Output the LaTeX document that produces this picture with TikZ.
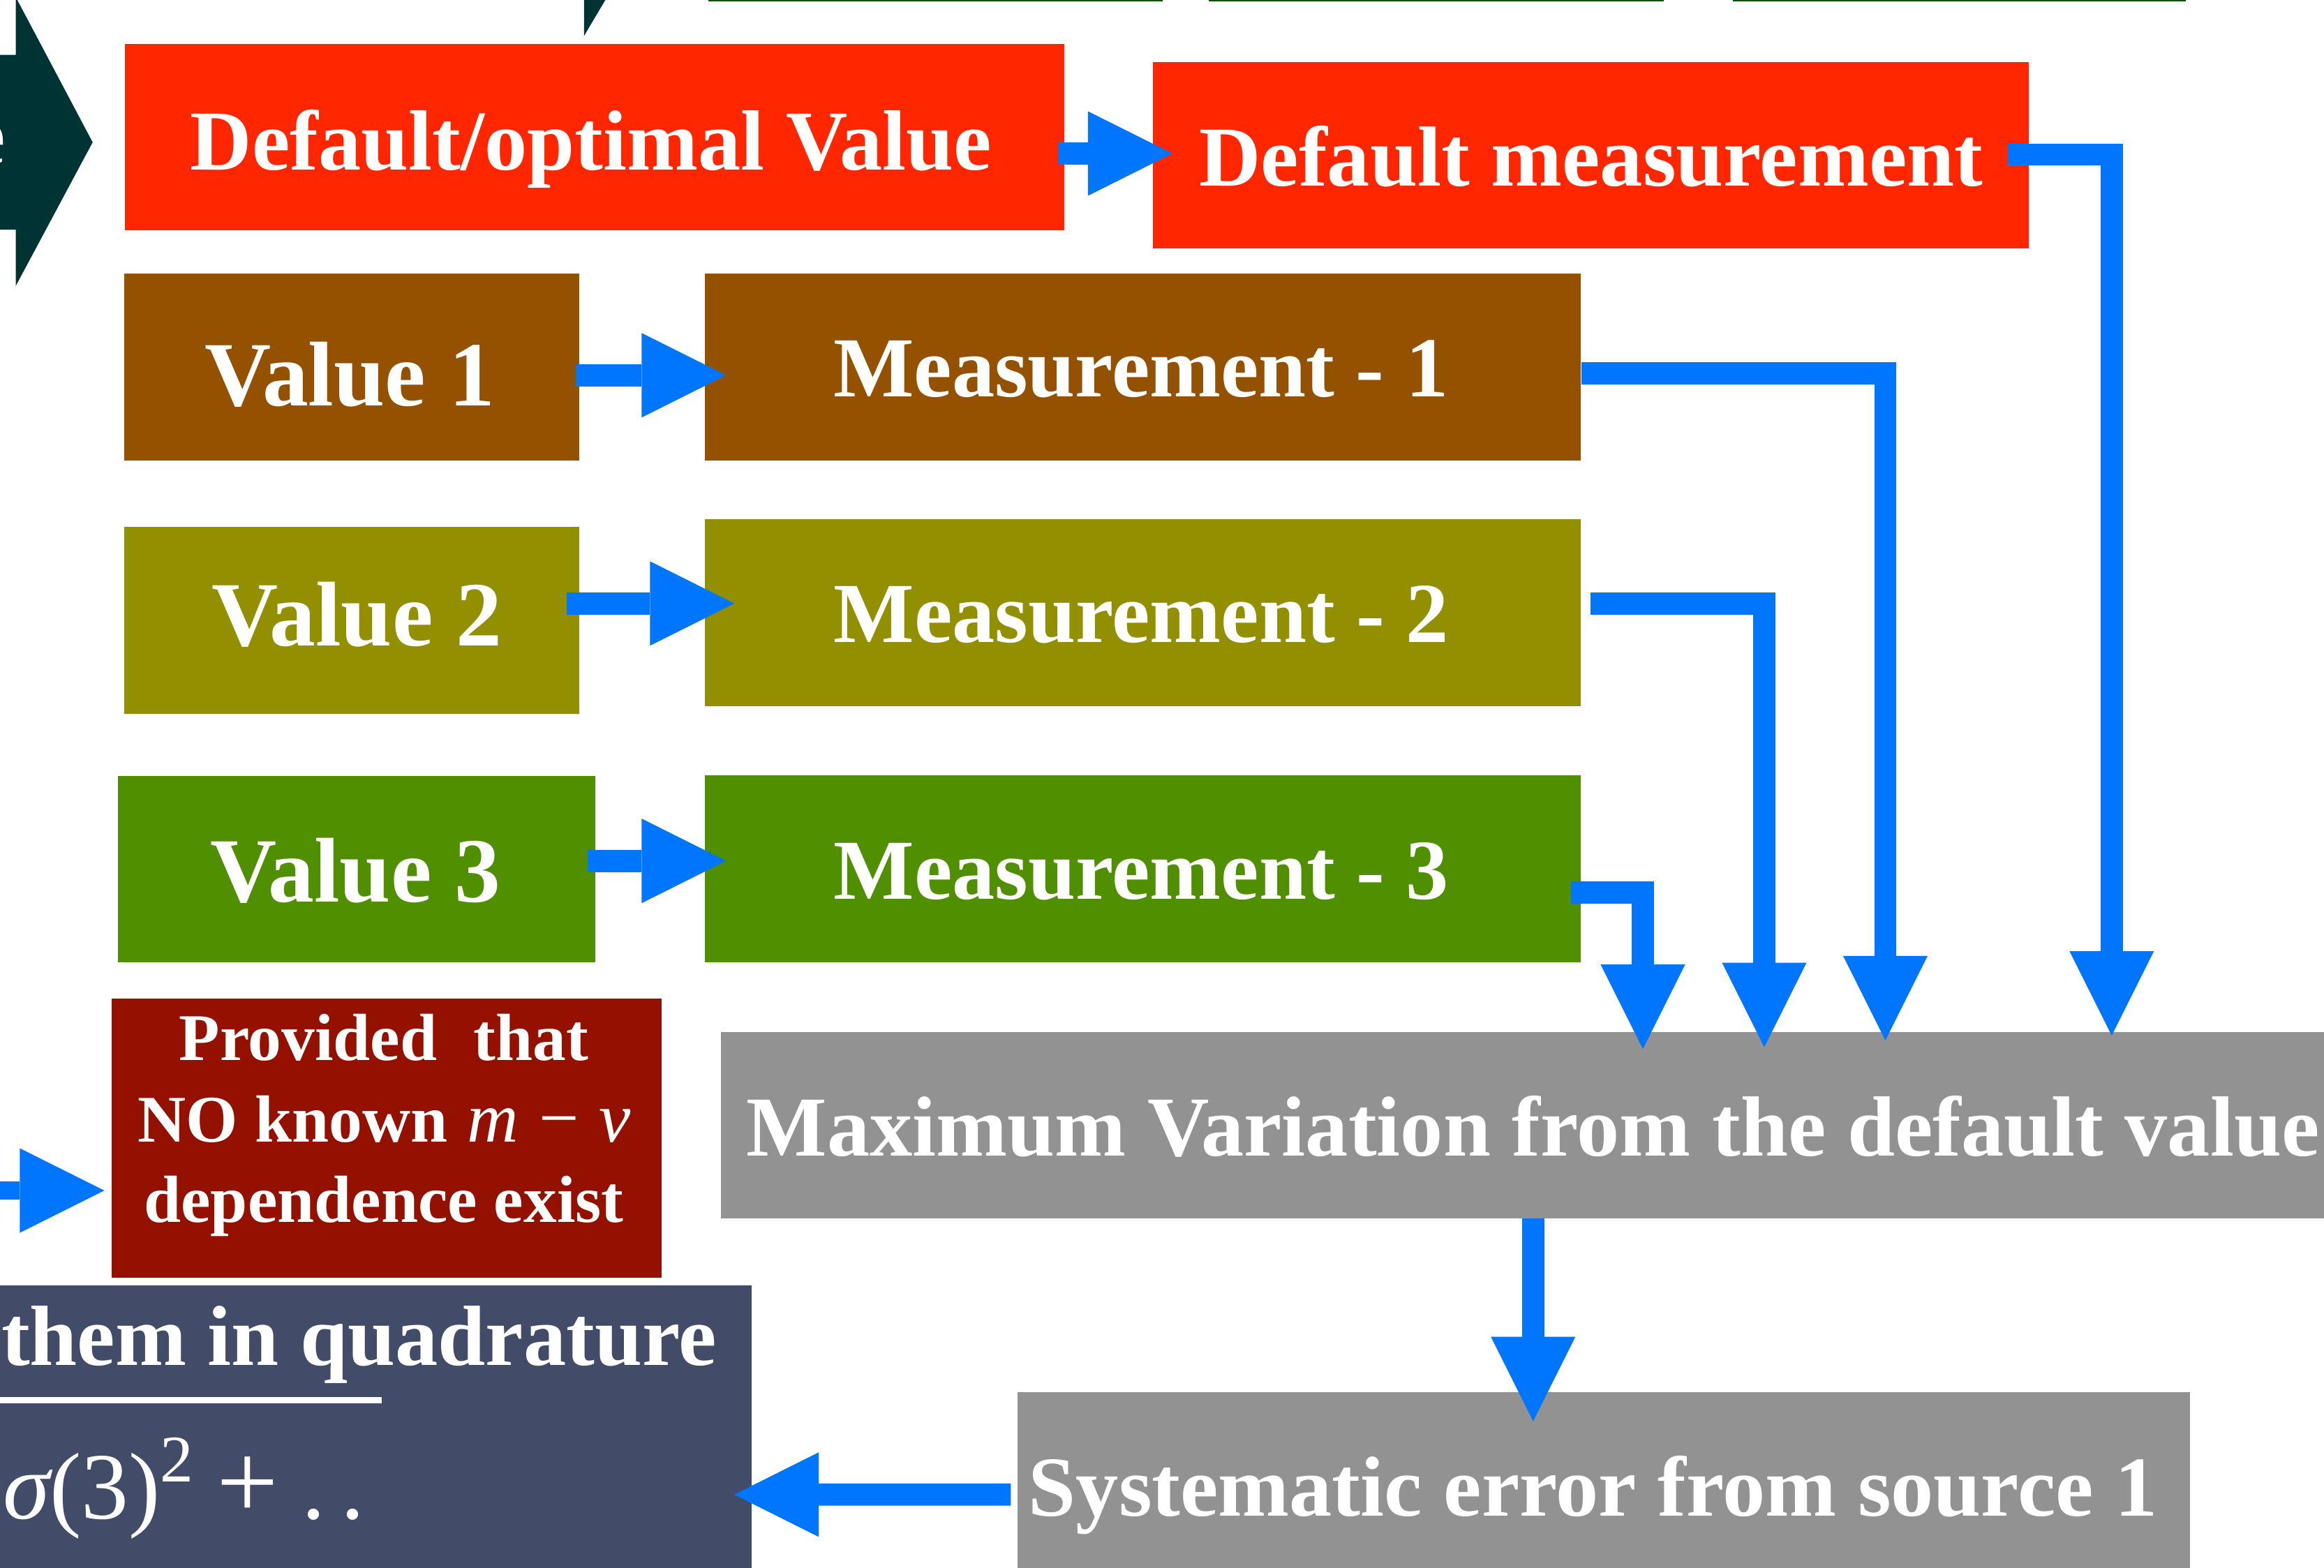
\documentclass[tikz,border=0pt]{standalone}
\usepackage{fontspec}
\setmainfont{Liberation Serif}
\usetikzlibrary{arrows.meta,calc,fit}
\definecolor{cred}{RGB}{255,38,0}
\definecolor{cbrown}{RGB}{148,82,0}
\definecolor{colive}{RGB}{146,144,0}
\definecolor{cgreen}{RGB}{79,143,0}
\definecolor{cgrey}{RGB}{146,146,146}
\definecolor{cdred}{RGB}{148,17,0}
\definecolor{cslate}{RGB}{66,75,103}
\definecolor{cblue}{RGB}{0,118,255}
\definecolor{cteal}{RGB}{0,51,51}
\definecolor{cdkgreen}{RGB}{0,85,0}
\newcommand{\mathpart}[1]{{\fontsize{27.3pt}{30pt}\mdseries\selectfont #1}}
\begin{document}
\begin{tikzpicture}[x=0.02cm,y=-0.02cm,
  box/.style={inner sep=0pt,outer sep=0pt},
  lbl/.style={text=white,inner sep=0pt,outer sep=0pt,anchor=base,font=\bfseries\fontsize{32.8pt}{38pt}\selectfont},
  vlbl/.style={lbl,font=\bfseries\fontsize{35.3pt}{40pt}\selectfont},
  plbl/.style={lbl,font=\bfseries\fontsize{25.6pt}{30pt}\selectfont},
  flbl/.style={lbl,font=\fontsize{36.42pt}{42pt}\selectfont},
  conn/.style={draw=cblue,line width=0.3cm,line join=miter,-{Triangle[length=1.14cm,width=1.14cm,line width=0pt]}}
]
\useasboundingbox (0,0) rectangle (1568,1058);
\clip (0,0) rectangle (1568,1058);
\fill[white] (0,0) rectangle (1568,1058);

% fragments at the top edge
\fill[cteal] (-20,37) -- (10.6,37) -- (10.6,-2) -- (62.5,96) -- (10.6,193) -- (10.6,155) -- (-20,155) -- cycle;
\node[lbl,anchor=base east] (eT) at (3.5,111) {e};
\fill[cteal] (394,-5) -- (411.4,-5) -- (394,24.3) -- cycle;
\fill[cdkgreen] (478,-2) rectangle (784.5,0.9);
\fill[cdkgreen] (815.6,-2) rectangle (1122.6,0.9);
\fill[cdkgreen] (1169.2,-2) rectangle (1474.8,0.9);

% boxes
\node[box,fill=cred,fit={(84.1,29.5)(718.3,155.4)}] (dov) {};
\node[box,fill=cred,fit={(777.8,41.9)(1368.8,167.5)}] (dm) {};
\node[box,fill=cbrown,fit={(83.9,184.5)(390.8,310.7)}] (v1) {};
\node[box,fill=cbrown,fit={(475.5,184.5)(1066.7,310.7)}] (m1) {};
\node[box,fill=colive,fit={(83.9,355.4)(390.8,481.8)}] (v2) {};
\node[box,fill=colive,fit={(475.5,350.3)(1066.7,476.5)}] (m2) {};
\node[box,fill=cgreen,fit={(79.6,523.7)(401.7,649.2)}] (v3) {};
\node[box,fill=cgreen,fit={(475.5,523.1)(1066.7,649.2)}] (m3) {};
\node[box,fill=cdred,fit={(75.3,673.7)(446.3,862)}] (prov) {};
\node[box,fill=cgrey,fit={(486.3,696.5)(1580,822)}] (maxv) {};
\node[box,fill=cgrey,fit={(686.5,939.4)(1477.6,1070)}] (sys) {};
\node[box,fill=cslate,fit={(-10,867.3)(507,1070)}] (quad) {};

% texts
\node[lbl] (dovT) at (398.7,114.6) {Default/optimal Value};
\node[lbl] (dmT) at (1073.5,125.6) {Default measurement};
\node[vlbl] (v1T) at (235.9,273.6) {Value 1};
\node[lbl] (m1T) at (769.8,267.9) {Measurement - 1};
\node[vlbl] (v2T) at (240.8,436) {Value 2};
\node[lbl] (m2T) at (770,433.4) {Measurement - 2};
\node[vlbl] (v3T) at (239.8,608.4) {Value 3};
\node[lbl] (m3T) at (770,606.8) {Measurement - 3};
\node[plbl] (p1) at (259,715.7) {Provided\hspace{0.55em}that};
\node[plbl,anchor=base west] (p2) at (93.2,770.4) {NO known\hspace{0.3em}\mathpart{\itshape m}\hspace{0.3em}\mathpart{\upshape −}\hspace{0.3em}\mathpart{\itshape v}};
\node[plbl] (p3) at (259,824.6) {dependence exist};
\node[lbl,anchor=base west] (maxvT) at (503.7,779.8) {Maximum Variation from the default value};
\node[lbl,anchor=base west] (sysT) at (694,1023) {Systematic error from source 1};
\node[lbl,anchor=base west] (quadT) at (1,921.3) {them in quadrature};
\fill[white] (-10,942.7) rectangle (257.7,947.1);
\node[flbl,anchor=base west] (formT) at (2,1025) {{\itshape σ}(3)\raisebox{0.5cm}{\fontsize{25.6pt}{28pt}\selectfont 2}\hspace{0.24em}{\fontsize{42.1pt}{44pt}\selectfont +}\hspace{0.25em}.\hspace{0.16em}.};

% connectors
\draw[conn] ($(dov.east)+(-4.3,11.15)$) -- ($(dm.west)+(13.2,-1.1)$);
\draw[conn] ($(v1.east)+(-2.4,5.6)$) -- ($(m1.west)+(14.4,5.6)$);
\draw[conn] ($(v2.east)+(-8.6,-11.4)$) -- ($(m2.west)+(20,-6.2)$);
\draw[conn] ($(v3.east)+(-5,-5.55)$) -- ($(m3.west)+(14.4,-5.25)$);
\draw[conn] ($(dm.east)+(-13.9,-0.4)$) -| ($(maxv.north)+(391.6,2.3)$);
\draw[conn] ($(m1.east)+(0.1,4.2)$) -| ($(maxv.north)+(238.9,5.5)$);
\draw[conn] ($(m2.east)+(6.6,-6)$) -| ($(maxv.north)+(157.2,10.1)$);
\draw[conn] ($(m3.east)+(-6.7,16.25)$) -| ($(maxv.north)+(75.3,11.3)$);
\draw[conn] ($(maxv.south)+(1.25,0)$) -- ($(sys.north)+(-47.65,19.6)$);
\draw[conn] ($(sys.west)+(-4.5,3.8)$) -- ($(quad.east)+(-11.6,39.85)$);
\coordinate (inA) at (-8,803.3);
\draw[conn,line width=0.24cm] (inA) -- ($(prov.west)+(-4.9,35.45)$);
\end{tikzpicture}
\end{document}
